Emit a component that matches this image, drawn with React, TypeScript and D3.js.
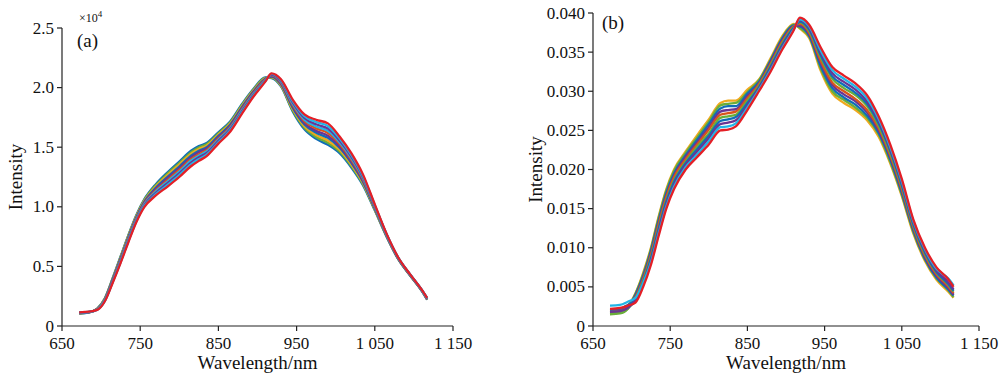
import React from "react";
import * as d3 from "d3";

// Wavelength grid (nm) at which the spectra were read
const wavelengths = [672, 685, 695, 705, 715, 725, 735, 745, 755, 770, 785, 800, 815, 825, 835, 850, 865, 880, 895, 910, 918, 930, 945, 960, 975, 990, 1005, 1020, 1035, 1050, 1065, 1080, 1095, 1110, 1117];

// Panel (a): raw intensity, in units of 10^4
const spectraA = [
  [0.105, 0.115, 0.145, 0.235, 0.405, 0.585, 0.765, 0.930, 1.060, 1.190, 1.290, 1.380, 1.470, 1.510, 1.535, 1.625, 1.715, 1.860, 1.990, 2.085, 2.080, 2.010, 1.800, 1.650, 1.570, 1.520, 1.450, 1.330, 1.180, 0.970, 0.750, 0.560, 0.425, 0.295, 0.220],
  [0.106, 0.116, 0.144, 0.233, 0.401, 0.580, 0.759, 0.924, 1.054, 1.181, 1.278, 1.367, 1.457, 1.498, 1.524, 1.616, 1.707, 1.852, 1.984, 2.082, 2.084, 2.016, 1.810, 1.663, 1.586, 1.538, 1.464, 1.342, 1.189, 0.975, 0.753, 0.562, 0.426, 0.296, 0.222],
  [0.107, 0.116, 0.143, 0.230, 0.397, 0.574, 0.753, 0.918, 1.047, 1.171, 1.266, 1.354, 1.444, 1.485, 1.513, 1.606, 1.698, 1.844, 1.977, 2.078, 2.088, 2.022, 1.820, 1.675, 1.602, 1.556, 1.478, 1.354, 1.198, 0.980, 0.755, 0.563, 0.427, 0.297, 0.223],
  [0.108, 0.117, 0.142, 0.227, 0.392, 0.567, 0.746, 0.911, 1.039, 1.160, 1.252, 1.338, 1.428, 1.470, 1.500, 1.595, 1.688, 1.834, 1.969, 2.074, 2.093, 2.029, 1.832, 1.690, 1.621, 1.578, 1.495, 1.368, 1.209, 0.986, 0.758, 0.565, 0.428, 0.298, 0.225],
  [0.109, 0.117, 0.141, 0.225, 0.388, 0.562, 0.740, 0.905, 1.033, 1.150, 1.240, 1.325, 1.415, 1.458, 1.489, 1.585, 1.679, 1.826, 1.963, 2.070, 2.097, 2.035, 1.842, 1.703, 1.637, 1.596, 1.509, 1.380, 1.218, 0.991, 0.761, 0.566, 0.429, 0.299, 0.226],
  [0.111, 0.118, 0.140, 0.221, 0.383, 0.555, 0.732, 0.897, 1.024, 1.138, 1.224, 1.309, 1.399, 1.441, 1.475, 1.573, 1.668, 1.816, 1.954, 2.066, 2.102, 2.043, 1.855, 1.719, 1.658, 1.619, 1.527, 1.396, 1.230, 0.998, 0.764, 0.568, 0.431, 0.301, 0.228],
  [0.112, 0.118, 0.139, 0.219, 0.379, 0.549, 0.726, 0.891, 1.018, 1.128, 1.212, 1.296, 1.386, 1.429, 1.464, 1.563, 1.660, 1.808, 1.948, 2.062, 2.106, 2.049, 1.865, 1.731, 1.674, 1.637, 1.541, 1.408, 1.239, 1.003, 0.766, 0.570, 0.432, 0.302, 0.230],
  [0.113, 0.119, 0.137, 0.216, 0.375, 0.543, 0.719, 0.884, 1.011, 1.118, 1.199, 1.281, 1.371, 1.415, 1.451, 1.553, 1.650, 1.799, 1.941, 2.058, 2.110, 2.056, 1.876, 1.745, 1.692, 1.657, 1.556, 1.421, 1.248, 1.008, 0.769, 0.571, 0.433, 0.303, 0.231],
  [0.114, 0.119, 0.136, 0.213, 0.370, 0.537, 0.712, 0.877, 1.003, 1.106, 1.184, 1.266, 1.356, 1.400, 1.438, 1.541, 1.640, 1.790, 1.933, 2.054, 2.115, 2.063, 1.888, 1.760, 1.711, 1.678, 1.573, 1.436, 1.259, 1.014, 0.772, 0.573, 0.434, 0.304, 0.233],
  [0.115, 0.120, 0.135, 0.210, 0.365, 0.530, 0.705, 0.870, 0.995, 1.095, 1.170, 1.250, 1.340, 1.385, 1.425, 1.530, 1.630, 1.780, 1.925, 2.050, 2.120, 2.070, 1.900, 1.775, 1.730, 1.700, 1.590, 1.450, 1.270, 1.020, 0.775, 0.575, 0.435, 0.305, 0.235],
];

// Panel (b): normalised intensity
const spectraB = [
  [0.0019, 0.0020, 0.0026, 0.0042, 0.0068, 0.0100, 0.0140, 0.0175, 0.0200, 0.0223, 0.0244, 0.0264, 0.0285, 0.0288, 0.0288, 0.0302, 0.0315, 0.0342, 0.0370, 0.0386, 0.0380, 0.0368, 0.0326, 0.0297, 0.0285, 0.0276, 0.0263, 0.0242, 0.0208, 0.0166, 0.0118, 0.0083, 0.0059, 0.0044, 0.0036],
  [0.0015, 0.0016, 0.0022, 0.0041, 0.0066, 0.0098, 0.0138, 0.0173, 0.0198, 0.0221, 0.0241, 0.0261, 0.0282, 0.0284, 0.0285, 0.0299, 0.0314, 0.0340, 0.0368, 0.0385, 0.0381, 0.0370, 0.0329, 0.0300, 0.0289, 0.0279, 0.0266, 0.0245, 0.0210, 0.0168, 0.0120, 0.0085, 0.0061, 0.0046, 0.0037],
  [0.0017, 0.0018, 0.0024, 0.0040, 0.0064, 0.0096, 0.0135, 0.0170, 0.0195, 0.0218, 0.0238, 0.0258, 0.0278, 0.0281, 0.0281, 0.0297, 0.0312, 0.0339, 0.0367, 0.0384, 0.0383, 0.0371, 0.0332, 0.0304, 0.0292, 0.0283, 0.0269, 0.0247, 0.0213, 0.0170, 0.0122, 0.0086, 0.0062, 0.0047, 0.0039],
  [0.0018, 0.0019, 0.0024, 0.0038, 0.0062, 0.0093, 0.0132, 0.0167, 0.0192, 0.0216, 0.0235, 0.0254, 0.0274, 0.0276, 0.0277, 0.0294, 0.0310, 0.0337, 0.0365, 0.0383, 0.0384, 0.0373, 0.0336, 0.0308, 0.0296, 0.0287, 0.0273, 0.0250, 0.0216, 0.0173, 0.0124, 0.0088, 0.0064, 0.0049, 0.0040],
  [0.0020, 0.0021, 0.0026, 0.0037, 0.0060, 0.0091, 0.0130, 0.0165, 0.0190, 0.0213, 0.0232, 0.0251, 0.0270, 0.0272, 0.0274, 0.0291, 0.0309, 0.0335, 0.0363, 0.0383, 0.0386, 0.0375, 0.0339, 0.0311, 0.0300, 0.0290, 0.0276, 0.0253, 0.0218, 0.0175, 0.0126, 0.0090, 0.0066, 0.0051, 0.0042],
  [0.0016, 0.0017, 0.0022, 0.0035, 0.0058, 0.0088, 0.0126, 0.0161, 0.0186, 0.0210, 0.0229, 0.0246, 0.0266, 0.0268, 0.0270, 0.0288, 0.0307, 0.0333, 0.0361, 0.0382, 0.0388, 0.0377, 0.0343, 0.0316, 0.0304, 0.0295, 0.0281, 0.0256, 0.0221, 0.0178, 0.0128, 0.0092, 0.0068, 0.0053, 0.0044],
  [0.0021, 0.0022, 0.0027, 0.0034, 0.0056, 0.0086, 0.0124, 0.0159, 0.0184, 0.0208, 0.0226, 0.0243, 0.0262, 0.0264, 0.0267, 0.0285, 0.0305, 0.0331, 0.0359, 0.0381, 0.0389, 0.0379, 0.0346, 0.0319, 0.0308, 0.0298, 0.0284, 0.0259, 0.0224, 0.0180, 0.0130, 0.0094, 0.0069, 0.0054, 0.0045],
  [0.0018, 0.0019, 0.0023, 0.0033, 0.0054, 0.0083, 0.0121, 0.0156, 0.0181, 0.0206, 0.0223, 0.0240, 0.0258, 0.0260, 0.0263, 0.0282, 0.0304, 0.0329, 0.0357, 0.0380, 0.0391, 0.0381, 0.0349, 0.0323, 0.0312, 0.0302, 0.0287, 0.0262, 0.0226, 0.0183, 0.0132, 0.0096, 0.0071, 0.0056, 0.0047],
  [0.0026, 0.0027, 0.0031, 0.0036, 0.0055, 0.0081, 0.0118, 0.0153, 0.0178, 0.0203, 0.0219, 0.0236, 0.0254, 0.0255, 0.0259, 0.0279, 0.0302, 0.0327, 0.0355, 0.0379, 0.0392, 0.0383, 0.0352, 0.0327, 0.0316, 0.0306, 0.0291, 0.0265, 0.0229, 0.0185, 0.0134, 0.0098, 0.0073, 0.0061, 0.0052],
  [0.0022, 0.0023, 0.0026, 0.0030, 0.0050, 0.0078, 0.0115, 0.0150, 0.0175, 0.0200, 0.0216, 0.0232, 0.0250, 0.0251, 0.0255, 0.0276, 0.0300, 0.0325, 0.0353, 0.0378, 0.0394, 0.0385, 0.0356, 0.0331, 0.0320, 0.0310, 0.0295, 0.0268, 0.0232, 0.0188, 0.0136, 0.0100, 0.0075, 0.0060, 0.0050],
];

const xTicks = [650, 750, 850, 950, 1050, 1150];
const xTickLabels = ["650", "750", "850", "950", "1 050", "1 150"];
const yTicksA = [0, 0.5, 1.0, 1.5, 2.0, 2.5];
const yTickLabelsA = ["0", "0.5", "1.0", "1.5", "2.0", "2.5"];
const yTicksB = [0, 0.005, 0.01, 0.015, 0.02, 0.025, 0.03, 0.035, 0.04];
const yTickLabelsB = ["0", "0.005", "0.010", "0.015", "0.020", "0.025", "0.030", "0.035", "0.040"];

const C = {
  blue: "#0F6DB8",
  red: "#E41F26",
  yellow: "#F0A91E",
  purple: "#6A3593",
  green: "#6AAE3A",
  cyan: "#22B5E6",
  orange: "#D9541A",
};
const colorsA = [C.blue, C.green, C.yellow, C.blue, C.purple, C.orange, C.cyan, C.purple, C.cyan, C.red];
const colorsB = [C.yellow, C.green, C.blue, C.purple, C.orange, C.green, C.blue, C.purple, C.cyan, C.red];

const FONT = "'Liberation Serif', 'Times New Roman', serif";

type PanelProps = {
  x0: number; x1: number; yTop: number; yBottom: number;
  yDomain: [number, number];
  yTicks: number[]; yTickLabels: string[];
  spectra: number[][]; colors: string[];
  tag: string; tagX: number; tagY: number;
  yLabelX: number;
  multiplier?: boolean;
};

function Panel(p: PanelProps) {
  const x = d3.scaleLinear().domain([650, 1150]).range([p.x0, p.x1]);
  const y = d3.scaleLinear().domain(p.yDomain).range([p.yBottom, p.yTop]);
  const line = d3.line<number>()
    .x((_, i) => x(wavelengths[i]))
    .y((v) => y(v))
    .curve(d3.curveMonotoneX);
  const midX = (p.x0 + p.x1) / 2;
  const midY = (p.yTop + p.yBottom) / 2;
  return (
    <g fontFamily={FONT} fill="#111">
      {p.spectra.map((s, i) => (
        <path key={i} d={line(s) || ""} fill="none" stroke={p.colors[i]} strokeWidth={2.3} strokeLinejoin="round" />
      ))}
      {/* axes */}
      <line x1={p.x0} x2={p.x0} y1={p.yTop} y2={p.yBottom} stroke="#222" strokeWidth={1.2} />
      <line x1={p.x0} x2={p.x1} y1={p.yBottom} y2={p.yBottom} stroke="#222" strokeWidth={1.2} />
      {p.yTicks.map((t, i) => (
        <g key={"y" + i}>
          <line x1={p.x0 - 5} x2={p.x0} y1={y(t)} y2={y(t)} stroke="#222" strokeWidth={1.2} />
          <text x={p.x0 - 8} y={y(t)} dy="0.33em" textAnchor="end" fontSize={17}>{p.yTickLabels[i]}</text>
        </g>
      ))}
      {xTicks.map((t, i) => (
        <g key={"x" + i}>
          <line x1={x(t)} x2={x(t)} y1={p.yBottom} y2={p.yBottom + 5} stroke="#222" strokeWidth={1.2} />
          <text x={x(t)} y={p.yBottom + 23} textAnchor="middle" fontSize={17}>{xTickLabels[i]}</text>
        </g>
      ))}
      <text x={midX} y={p.yBottom + 43} textAnchor="middle" fontSize={19}>Wavelength/nm</text>
      <text transform={`translate(${p.yLabelX},${midY}) rotate(-90)`} textAnchor="middle" fontSize={19}>Intensity</text>
      <text x={p.tagX} y={p.tagY} fontSize={19}>{p.tag}</text>
      {p.multiplier && (
        <text x={p.x0 + 17} y={p.yTop - 6} fontSize={12}>
          ×10<tspan fontSize={9} dy={-5}>4</tspan>
        </text>
      )}
    </g>
  );
}

export default function App() {
  return (
    <svg width={1000} height={377} style={{ position: "absolute", left: 0, top: 0, background: "#fff" }}>
      <rect width={1000} height={377} fill="#fff" />
      <Panel x0={62} x1={453} yTop={28} yBottom={326} yDomain={[0, 2.5]}
        yTicks={yTicksA} yTickLabels={yTickLabelsA} spectra={spectraA} colors={colorsA}
        tag="(a)" tagX={77} tagY={47} yLabelX={22} multiplier />
      <Panel x0={593} x1={979} yTop={13} yBottom={326} yDomain={[0, 0.04]}
        yTicks={yTicksB} yTickLabels={yTickLabelsB} spectra={spectraB} colors={colorsB}
        tag="(b)" tagX={602} tagY={29} yLabelX={542} />
    </svg>
  );
}
